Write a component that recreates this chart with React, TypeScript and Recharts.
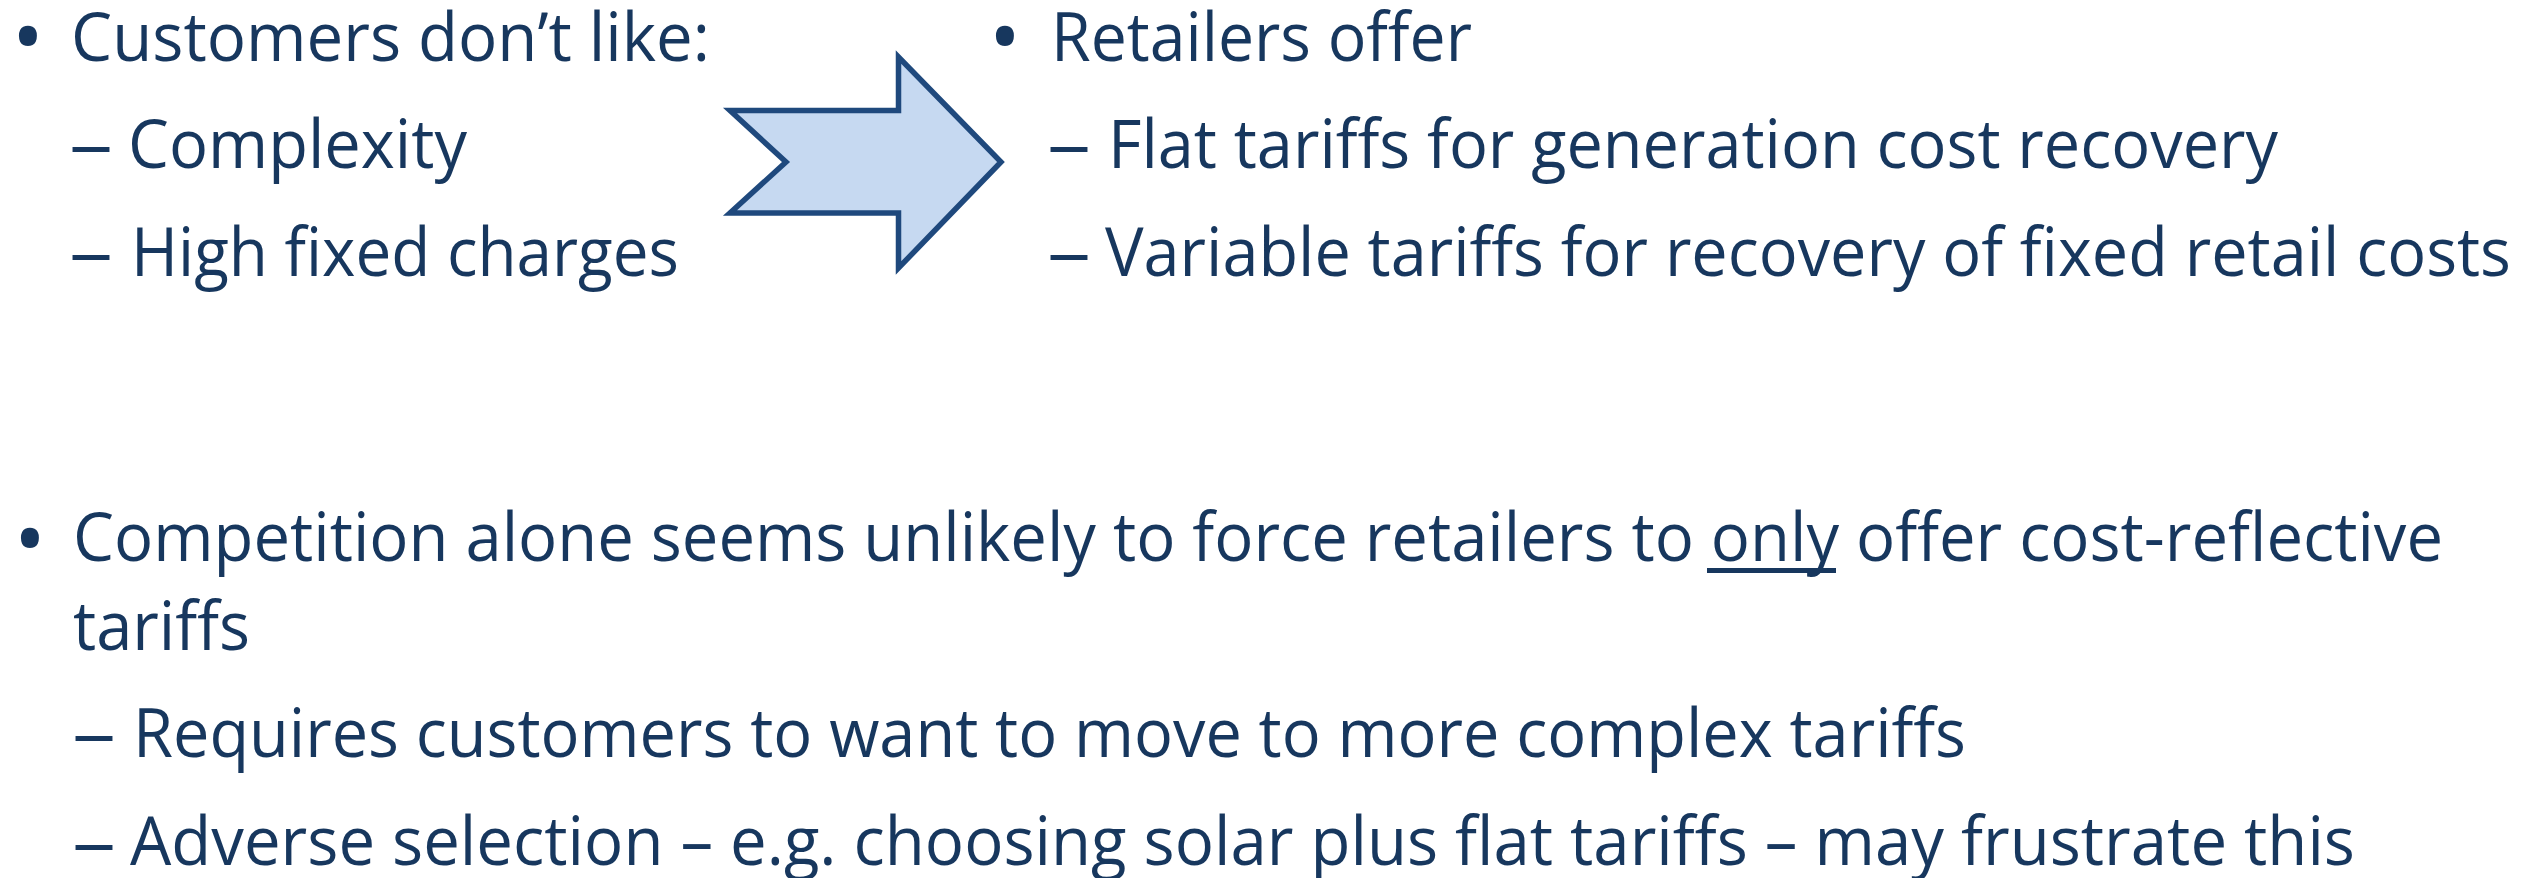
import React from "react";
import { ComposedChart, XAxis, YAxis, Customized } from "recharts";

// ---- content ----
const leftHeading = "Customers don’t like:";
const leftItems = ["Complexity", "High fixed charges"];
const rightHeading = "Retailers offer";
const rightItems = [
  "Flat tariffs for generation cost recovery",
  "Variable tariffs for recovery of fixed retail costs",
];
const bottomHeadingParts = [
  "Competition alone seems unlikely to force retailers to ",
  "only",
  " offer cost-reflective",
];
const bottomHeadingWrap = "tariffs";
const bottomItems = [
  "Requires customers to want to move to more complex tariffs",
  "Adverse selection – e.g. choosing solar plus flat tariffs – may frustrate this",
];
const bulletGlyph = "•";
const dashGlyph = "–";

// ---- layout ----
const W = 2529;
const H = 878;
const TEXT = "#17375E";
const FONT = "'Open Sans', 'Noto Sans', sans-serif";
const FS = 67;

type Line = { x: number; y: number; w: number };
const headLayout: Record<string, Line> = {
  left: { x: 71, y: 61, w: 639 },
  right: { x: 1051, y: 61, w: 421 },
  bottom: { x: 73, y: 561, w: 2370 },
  bottomWrap: { x: 73, y: 650, w: 177 },
};
const leftItemLayout: Line[] = [
  { x: 128, y: 168, w: 339 },
  { x: 131, y: 276, w: 548 },
];
const rightItemLayout: Line[] = [
  { x: 1108, y: 168, w: 1170 },
  { x: 1105, y: 276, w: 1406 },
];
const bottomItemLayout: Line[] = [
  { x: 133, y: 757, w: 1833 },
  { x: 130, y: 865, w: 2225 },
];
const bullets = [
  { cx: 28, cy: 33 },
  { cx: 1005, cy: 33 },
  { cx: 30, cy: 535 },
];
const dashes = [
  { x: 70, y: 148 },
  { x: 70, y: 256 },
  { x: 1048, y: 148 },
  { x: 1048, y: 256 },
  { x: 73, y: 737 },
  { x: 73, y: 846 },
];
const underline = { x1: 1707, x2: 1836, y: 570.5 };
const arrowPts: [number, number][] = [
  [730, 110.5],
  [898.5, 110.5],
  [898.5, 57],
  [1001, 162],
  [898.5, 268],
  [898.5, 213],
  [730, 213],
  [786, 162],
];

const T = ({ l, children }: { l: Line; children: React.ReactNode }) => (
  <text
    x={l.x}
    y={l.y}
    textLength={l.w}
    lengthAdjust="spacingAndGlyphs"
    fontFamily={FONT}
    fontSize={FS}
    fill={TEXT}
  >
    {children}
  </text>
);

const Slide = () => (
  <g>
    <rect x={0} y={0} width={W} height={H} fill="#ffffff" />
    <path
      d={"M" + arrowPts.map((p) => p.join(",")).join(" L") + " Z"}
      fill="#C6D9F1"
      stroke="#1F497D"
      strokeWidth={5.5}
      strokeLinejoin="miter"
    />
    {bullets.map((b, i) => (
      <text
        key={"b" + i}
        x={b.cx}
        y={b.cy}
        textAnchor="middle"
        dominantBaseline="central"
        fontFamily={FONT}
        fontSize={86}
        fill={TEXT}
      >
        {bulletGlyph}
      </text>
    ))}
    {dashes.map((d, i) => (
      <text
        key={"d" + i}
        x={d.x - 1}
        y={d.y + 20}
        textLength={44}
        lengthAdjust="spacingAndGlyphs"
        fontFamily={FONT}
        fontSize={FS}
        fill={TEXT}
      >
        {dashGlyph}
      </text>
    ))}
    <T l={headLayout.left}>{leftHeading}</T>
    {leftItems.map((t, i) => (
      <T key={"l" + i} l={leftItemLayout[i]}>
        {t}
      </T>
    ))}
    <T l={headLayout.right}>{rightHeading}</T>
    {rightItems.map((t, i) => (
      <T key={"r" + i} l={rightItemLayout[i]}>
        {t}
      </T>
    ))}
    <T l={headLayout.bottom}>
      {bottomHeadingParts.map((p, i) => (
        <tspan key={"p" + i}>{p}</tspan>
      ))}
    </T>
    <rect
      x={underline.x1}
      y={underline.y - 2.5}
      width={underline.x2 - underline.x1}
      height={5}
      fill={TEXT}
    />
    <T l={headLayout.bottomWrap}>{bottomHeadingWrap}</T>
    {bottomItems.map((t, i) => (
      <T key={"bi" + i} l={bottomItemLayout[i]}>
        {t}
      </T>
    ))}
  </g>
);

export default function App() {
  return (
    <div style={{ position: "absolute", left: 0, top: 0, width: W, height: H, background: "#fff" }}>
      <ComposedChart width={W} height={H} data={[{ x: 0, y: 0 }]} margin={{ top: 0, right: 0, bottom: 0, left: 0 }}>
        <XAxis dataKey="x" type="number" domain={[0, W]} hide />
        <YAxis type="number" domain={[0, H]} reversed hide />
        <Customized component={Slide} />
      </ComposedChart>
    </div>
  );
}
